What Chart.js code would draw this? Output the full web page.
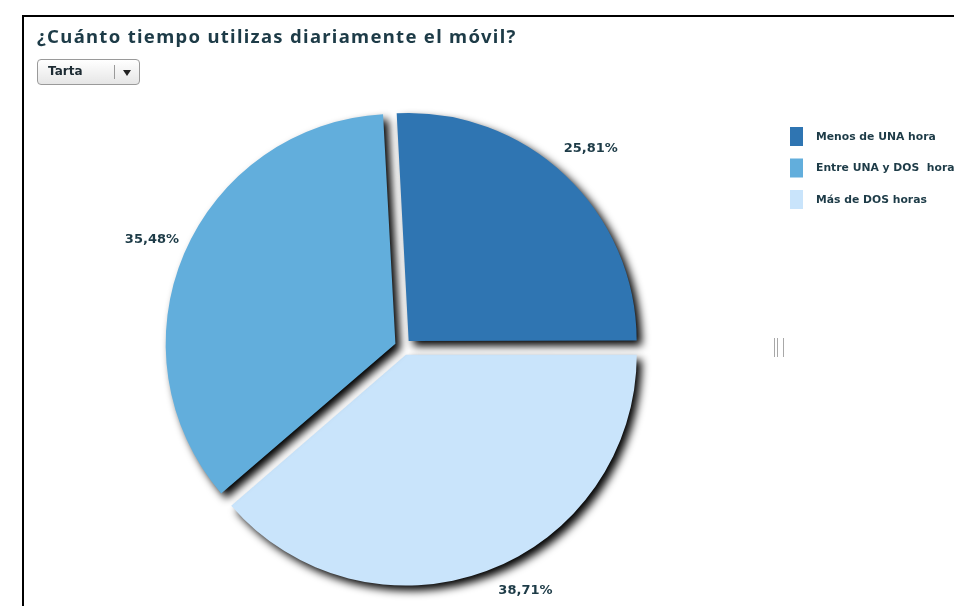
<!DOCTYPE html>
<html>
<head>
<meta charset="utf-8">
<script src="https://cdn.jsdelivr.net/npm/chart.js@4"></script>
<style>
  html, body { margin: 0; padding: 0; background: #fff; overflow: hidden; }
  body { width: 954px; height: 606px; position: relative; }
  #frame { position: absolute; left: 22px; top: 15px; width: 1000px; height: 700px;
           border-left: 2px solid #000; border-top: 2px solid #000; }
  #title { position: absolute; left: 37px; top: 23px; font: bold 18.5px "Noto Sans", sans-serif;
           letter-spacing: 1.3px; color: #1d3b47; white-space: nowrap; }
  #pick { position: absolute; left: 37px; top: 59px; width: 101px; height: 24px;
          border: 1px solid #9a9a9a; border-radius: 4px;
          background: linear-gradient(#ffffff, #e6e6e6); }
  #pick span { position: absolute; left: 10px; top: 4px; font: bold 12px "DejaVu Sans", sans-serif; color: #1d2b33; }
  #pick i { position: absolute; left: 76px; top: 5px; height: 14px; border-left: 1px solid #9a9a9a; }
  #pick b { position: absolute; left: 85px; top: 10px; width: 0; height: 0;
            border-left: 4px solid transparent; border-right: 4px solid transparent; border-top: 6px solid #222; }
  #grip { position: absolute; left: 774px; top: 338px; width: 8px; height: 19px;
          border-left: 1px solid #a8a8a8; border-right: 1px solid #a8a8a8; }
  #grip:after { content: ""; position: absolute; left: 2px; top: 0; height: 19px; border-left: 1px solid #a8a8a8; }
  canvas { position: absolute; left: 0; top: 0; }
</style>
</head>
<body>
<div id="frame"></div>
<canvas id="myChart" width="954" height="606"></canvas>
<div id="title">¿Cuánto tiempo utilizas diariamente el móvil?</div>
<div id="pick"><span>Tarta</span><i></i><b></b></div>
<div id="grip"></div>
<script>
// chart data
const labels = ['Menos de UNA hora', 'Entre UNA y DOS  horas', 'Más de DOS horas'];
const values = [25.81, 35.48, 38.71];
const colors = ['#2f75b2', '#62aedc', '#c9e4fb'];

const textColor = '#1d3b47';

// the original goes counter-clockwise, so feed the pie in reverse order
const pieLabels = labels.slice().reverse();
const pieValues = values.slice().reverse();
const pieColors = colors.slice().reverse();

function fmt(v) {
    return v.toFixed(2).replace('.', ',') + '%';
}

// black drop shadow under the slices + percentage labels + legend
const shadowAndLabels = {
    id: 'shadowAndLabels',
    beforeDatasetsDraw(chart) {
        const ctx = chart.ctx;
        ctx.save();
        ctx.shadowColor = '#000';
        ctx.shadowBlur = 8;
        ctx.shadowOffsetX = 5;
        ctx.shadowOffsetY = 5;
    },
    afterDatasetsDraw(chart) {
        const ctx = chart.ctx;
        ctx.restore();
        const meta = chart.getDatasetMeta(0);
        const maxY = chart.height - 15;
        ctx.save();
        ctx.font = 'bold 13px "DejaVu Sans", sans-serif';
        ctx.fillStyle = textColor;
        ctx.textAlign = 'center';
        ctx.textBaseline = 'middle';
        meta.data.forEach((arc, i) => {
            const d = arc.outerRadius + 45;
            let a = (arc.startAngle + arc.endAngle) / 2;
            let y = arc.y + Math.sin(a) * d;
            if (y > maxY) {
                // slide along the label circle until it fits
                const a0 = Math.asin((maxY - arc.y) / d);
                const a1 = Math.PI - a0;
                const norm = t => Math.atan2(Math.sin(t), Math.cos(t));
                a = Math.abs(norm(a - a0)) < Math.abs(norm(a - a1)) ? a0 : a1;
                y = maxY;
            }
            const x = arc.x + Math.cos(a) * d;
            ctx.fillText(fmt(chart.data.datasets[0].data[i]), x, y);
        });
        ctx.restore();
    },
    afterDraw(chart) {
        const ctx = chart.ctx;
        ctx.save();
        ctx.font = 'bold 10.8px "DejaVu Sans", sans-serif';
        ctx.textBaseline = 'middle';
        labels.forEach((lab, i) => {
            const top = 127 + i * 31.5;
            ctx.fillStyle = colors[i];
            ctx.fillRect(790, top, 13, 19);
            ctx.fillStyle = textColor;
            ctx.fillText(lab, 816, top + 10);
        });
        ctx.restore();
    }
};

let ctx = document.getElementById('myChart').getContext('2d');
let myChart = new Chart(ctx, {
    type: 'pie',
    data: {
        labels: pieLabels,
        datasets: [{
            data: pieValues,
            backgroundColor: pieColors,
            borderWidth: 0,
            offset: 33,
            hoverOffset: 33
        }]
    },
    options: {
        responsive: false,
        animation: false,
        rotation: 89.9,
        radius: 228,
        layout: { padding: { left: 175, right: 323, top: 119, bottom: 31 } },
        plugins: {
            legend: { display: false },
            tooltip: { enabled: false }
        },
        events: []
    },
    plugins: [shadowAndLabels]
});
</script>
</body>
</html>
